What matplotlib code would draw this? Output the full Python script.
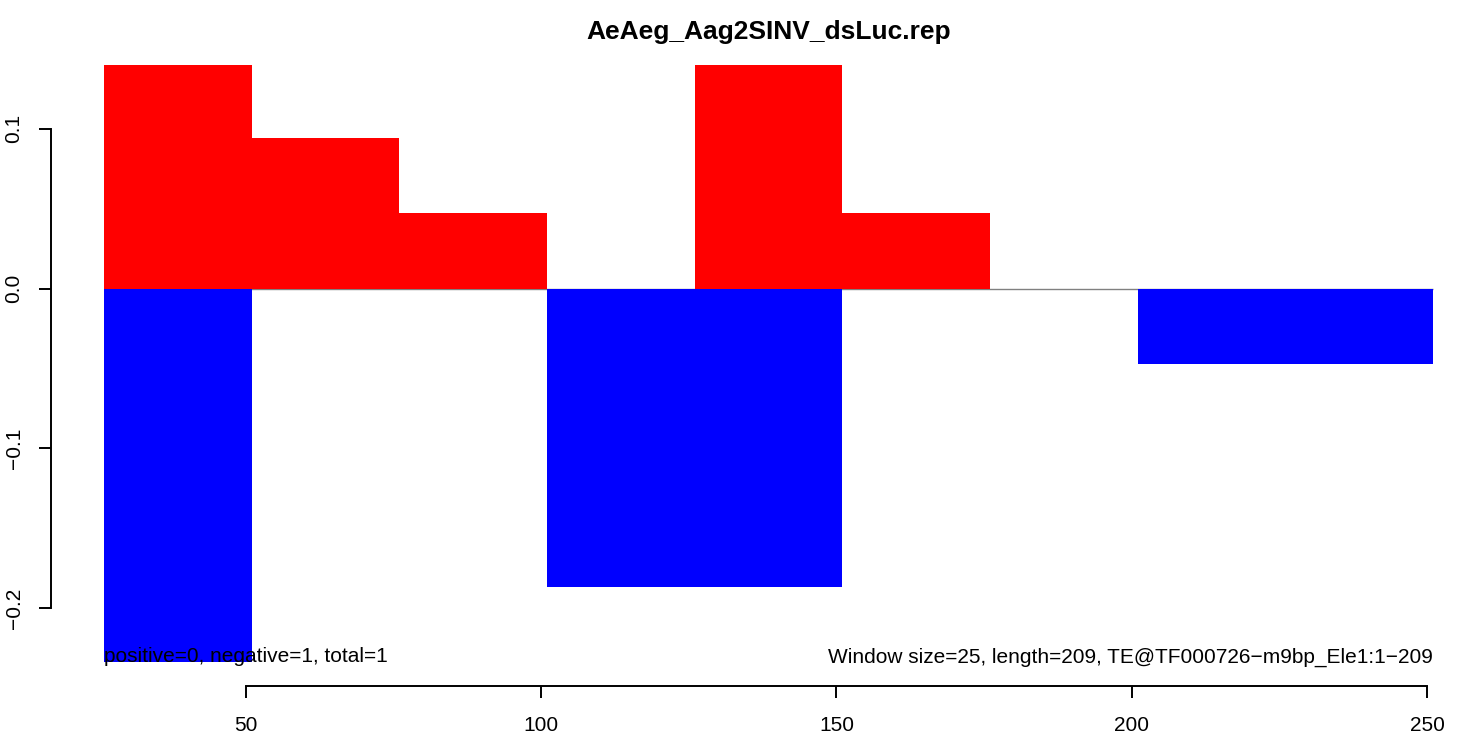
import matplotlib
matplotlib.use("Agg")
import matplotlib.pyplot as plt

plt.rcParams["font.family"] = ["Liberation Sans", "DejaVu Sans"]

# window start positions (window size 25)
window_starts = [26, 51, 76, 101, 126, 151, 176, 201, 226]
window_size = 25
positive = [0.140, 0.094, 0.047, 0.0, 0.140, 0.047, 0.0, 0.0, 0.0]
negative = [-0.234, 0.0, 0.0, -0.187, -0.187, 0.0, 0.0, -0.047, -0.047]

x_ticks = [50, 100, 150, 200, 250]
y_ticks = [-0.2, -0.1, 0.0, 0.1]

title = "AeAeg_Aag2SINV_dsLuc.rep"
left_note = "positive=0, negative=1, total=1"
right_note = "Window size=25, length=209, TE@TF000726\u2212m9bp_Ele1:1\u2212209"

W, H = 1464, 736
fig = plt.figure(figsize=(W / 100, H / 100), dpi=100)

# R style: 4% padding on both axes
x_lo, x_hi = window_starts[0], window_starts[-1] + window_size
y_lo, y_hi = min(negative), max(positive)
dx = 0.04 * (x_hi - x_lo)
dy = 0.04 * (y_hi - y_lo)

left_px, right_px = 50.8, 1486.3
top_px, bottom_px = 41.0, 686.2
ax = fig.add_axes([left_px / W, 1 - bottom_px / H,
                   (right_px - left_px) / W, (bottom_px - top_px) / H])

ax.hlines(0, x_lo, x_hi, color="gray", lw=1.0, zorder=1)
ax.bar(window_starts, positive, width=window_size, align="edge",
       color="#ff0000", linewidth=0, zorder=2)
ax.bar(window_starts, negative, width=window_size, align="edge",
       color="#0000ff", linewidth=0, zorder=2)

ax.set_xlim(x_lo - dx, x_hi + dx)
ax.set_ylim(y_lo - dy, y_hi + dy)

for s in ["top", "right"]:
    ax.spines[s].set_visible(False)
ax.spines["left"].set_bounds(y_ticks[0], y_ticks[-1])
ax.spines["bottom"].set_bounds(x_ticks[0], x_ticks[-1])
for s in ["left", "bottom"]:
    ax.spines[s].set_linewidth(1.4)

ax.set_xticks(x_ticks)
ax.set_xticklabels([str(v) for v in x_ticks])
ax.set_yticks(y_ticks)
ax.set_yticklabels(["\u22120.2", "\u22120.1", "0.0", "0.1"])
ax.tick_params(axis="both", direction="out", length=8.6, width=1.4,
               labelsize=15)
ax.tick_params(axis="x", pad=13)
ax.tick_params(axis="y", pad=11)
plt.setp(ax.get_yticklabels(), rotation=90, va="center")

ax.text(window_starts[0], min(negative), left_note, ha="left",
        va="baseline", fontsize=15, zorder=3)
ax.text(x_hi, min(negative), right_note, ha="right",
        va="baseline", fontsize=15, zorder=3)

fig.text((left_px + right_px) / 2 / W, 1 - 39.5 / H, title, ha="center",
         va="baseline", fontsize=19, fontweight="bold")

fig.savefig("out.png", dpi=100)
